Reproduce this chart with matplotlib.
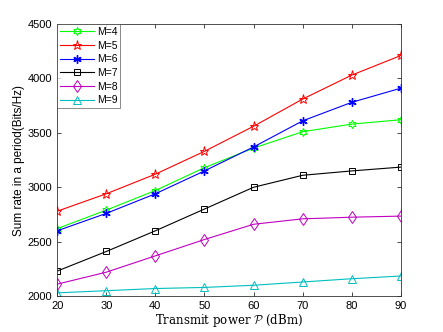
import numpy as np
import matplotlib.pyplot as plt

plt.rcParams['font.family'] = 'Liberation Sans'
plt.rcParams['mathtext.fontset'] = 'cm'

# transmit power (dBm)
power = [20, 30, 40, 50, 60, 70, 80, 90]

# sum rate for each M
m4 = [2620, 2790, 2970, 3180, 3360, 3510, 3580, 3620]
m5 = [2780, 2940, 3120, 3330, 3560, 3810, 4030, 4210]
m6 = [2600, 2760, 2940, 3150, 3370, 3610, 3780, 3910]
m7 = [2230, 2410, 2600, 2800, 3000, 3110, 3150, 3185]
m8 = [2110, 2220, 2370, 2520, 2660, 2710, 2725, 2735]
m9 = [2030, 2050, 2070, 2080, 2100, 2130, 2160, 2185]

fig = plt.figure(figsize=(4.43, 3.32), dpi=100)
ax = fig.add_axes([0.129, 0.108, 0.776, 0.82])

lw = 0.8
mw = 0.7
ax.plot(power, m4, color="#00ff00", marker=(6, 1, 0), mfc="none", ms=6, mew=mw, lw=lw, label="M=4")
ax.plot(power, m5, color="r", marker="*", mfc="none", ms=6.5, mew=mw, lw=lw, label="M=5")
ax.plot(power, m6, color="b", marker=(6, 2, 0), ms=6, mew=1.0, lw=lw, label="M=6")
ax.plot(power, m7, color="k", marker="s", mfc="none", ms=4.5, mew=mw, lw=lw, label="M=7")
ax.plot(power, m8, color="m", marker="d", mfc="none", ms=6, mew=mw, lw=lw, label="M=8")
ax.plot(power, m9, color="c", marker="^", mfc="none", ms=5.5, mew=mw, lw=lw, label="M=9")

ax.set_xlim(20, 90)
ax.set_ylim(2000, 4500)
ax.set_xticks(power)
ax.set_yticks(np.arange(2000, 4501, 500))
ax.tick_params(direction="in", top=True, right=True, labelsize=8, length=3, width=0.5)
for s in ax.spines.values():
    s.set_linewidth(0.6)
    s.set_color("#333333")

ax.set_xlabel(r"Transmit power $\mathcal{P}$ (dBm)", family="serif", fontsize=8.5, labelpad=1)
ax.set_ylabel("Sum rate in a period(Bits/Hz)", fontsize=8.5, labelpad=2)

leg = ax.legend(loc="upper left", fontsize=7.5, fancybox=False, borderaxespad=0,
                handlelength=3.2, labelspacing=0.35, borderpad=0.3, handletextpad=0.3)
leg.get_frame().set_edgecolor("#333333")
leg.get_frame().set_linewidth(0.5)

plt.savefig("out.png", dpi=100)
